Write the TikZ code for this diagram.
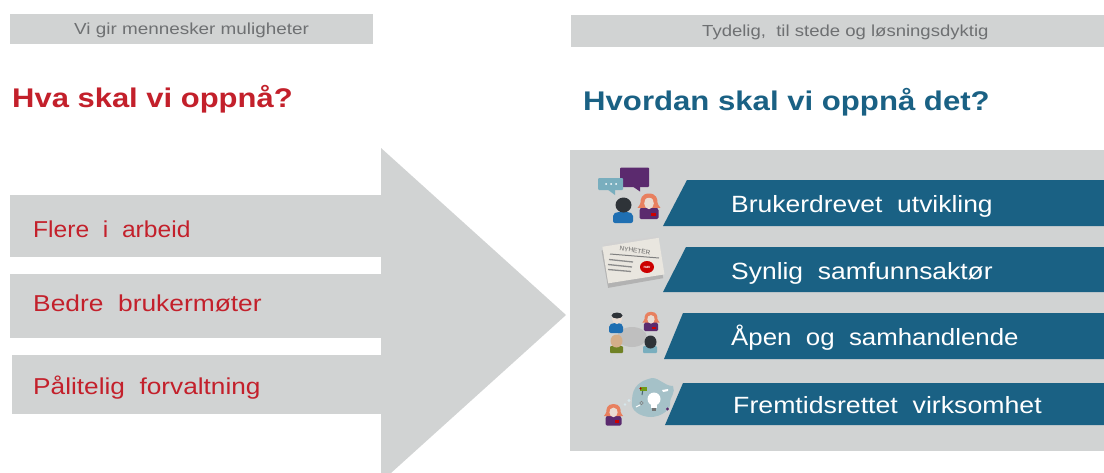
\documentclass[tikz,border=0pt]{standalone}
\usepackage{fontspec}
\setmainfont{Liberation Sans}
\definecolor{panel}{HTML}{D1D3D3}
\definecolor{redt}{HTML}{C3202B}
\definecolor{bluet}{HTML}{1A6184}
\definecolor{greyt}{HTML}{6E7072}
\definecolor{plum}{HTML}{5B2A6E}
\definecolor{tealb}{HTML}{79AEBE}
\definecolor{hair}{HTML}{E8805F}
\definecolor{skin}{HTML}{E9DCD3}
\definecolor{dark}{HTML}{2E3338}
\definecolor{blueb}{HTML}{1F6FB2}
\definecolor{paper}{HTML}{E9E6DF}
\tikzset{
  x=1pt,y=-1pt,
  hdr/.style={font=\fontsize{16}{16}\selectfont,text=greyt,anchor=west,inner sep=0pt},
  goal/.style={font=\fontsize{23}{23}\selectfont,text=redt,anchor=base west,inner sep=0pt},
  band/.style={font=\fontsize{23.5}{24}\selectfont,text=white,anchor=base west,inner sep=0pt},
  ttl/.style={font=\bfseries\fontsize{27}{27}\selectfont,anchor=base west,inner sep=0pt},
  pn/.style={fill=panel,draw=none},
  bnd/.style={fill=bluet,draw=none},
}
\newcommand{\sx}[2]{\scalebox{#1}[1]{#2}}
\newcommand{\womanicon}[3]{% x y scale
  \begin{scope}[shift={(#1,#2)},scale=#3]
    \fill[plum,rounded corners=1.5pt] (-10,17) -- (-10,6) -- (-5,3) -- (5,3) -- (10,6) -- (10,17) -- cycle;
    \fill[hair] (0,-10) .. controls (-8,-10) and (-9,-4) .. (-9,0) .. controls (-9,2) and (-11,3) .. (-12,5) -- (-4,5) -- (4,5) -- (12,5) .. controls (11,3) and (9,2) .. (9,0) .. controls (9,-4) and (8,-10) .. (0,-10) -- cycle;
    \fill[skin] (0,-5.5) .. controls (-7.5,-5.5) and (-6,6.5) .. (0,6.5) .. controls (6,6.5) and (7.5,-5.5) .. (0,-5.5) -- cycle;
    \fill[red!80!black] (2,10.5) rectangle (7,13.5);
  \end{scope}}
\begin{document}
\begin{tikzpicture}
\useasboundingbox (0,0) rectangle (1104,472);
\path[clip] (0,0) rectangle (1104,472);
\fill[white] (0,0) rectangle (1104,472);
% headers
\fill[pn] (10,14) rectangle (373,44);
\node[hdr] (h1) at (74,30.5) {\sx{1.18}{Vi gir mennesker muligheter}};
\fill[pn] (571,15) rectangle (1104,47);
\node[hdr] (h2) at (702,32) {\sx{1.158}{Tydelig,\ \ til stede og løsningsdyktig}};
\node[ttl,text=redt] (t1) at (12,107) {\sx{1.147}{Hva skal vi oppnå?}};
\node[ttl,text=bluet] (t2) at (583,110) {\sx{1.153}{Hvordan skal vi oppnå det?}};
% arrow
\fill[pn] (381,148) -- (566,315) -- (381,482) -- cycle;
\fill[pn] (10,195) rectangle (382,257);
\fill[pn] (10,274) rectangle (382,338);
\fill[pn] (12,355) rectangle (382,414);
\node[goal] (g1) at (33,237) {\sx{1.07}{Flere\ \ i\ \ arbeid}};
\node[goal] (g2) at (33,311) {\sx{1.146}{Bedre\ \ brukermøter}};
\node[goal] (g3) at (33,394) {\sx{1.14}{Pålitelig\ \ forvaltning}};
% panel
\fill[pn] (570,150) rectangle (1104,451);
\fill[bnd] (687,180) -- (1104,180) -- (1104,226) -- (663,226) -- cycle;
\fill[bnd] (686,247) -- (1104,247) -- (1104,292) -- (663,292) -- cycle;
\fill[bnd] (683,313) -- (1104,313) -- (1104,359) -- (664,359) -- cycle;
\fill[bnd] (683,383) -- (1104,383) -- (1104,425) -- (665,425) -- cycle;
\node[band] (b1) at (731,212) {\sx{1.125}{Brukerdrevet\ \ utvikling}};
\node[band] (b2) at (731,279) {\sx{1.125}{Synlig\ \ samfunnsaktør}};
\node[band] (b3) at (731,345) {\sx{1.10}{Åpen\ \ og\ \ samhandlende}};
\node[band] (b4) at (733,413) {\sx{1.136}{Fremtidsrettet\ \ virksomhet}};
% icon 1
\fill[plum,rounded corners=1pt] (620,167.5) rectangle (649,187);
\fill[plum] (632,186) -- (640,191.5) -- (640,186) -- cycle;
\fill[tealb,rounded corners=1pt] (598,178) rectangle (623,190);
\fill[tealb] (607,189) -- (615,195) -- (615,189) -- cycle;
\foreach \px in {606,611,616}{\fill[white] (\px,184) circle (1);}
\fill[blueb,rounded corners=2pt] (613,223) -- (613,214) -- (617,212) -- (629,212) -- (633,214) -- (633,223) -- cycle;
\fill[dark] (623.5,205) ellipse (8 and 7.5);
\womanicon{649}{203}{0.95}
% icon 2
\fill[black!18,rotate around={8:(634,260)}] (606,240) rectangle (660,280);
\fill[black!30,rotate around={10:(634,262)}] (604,245) rectangle (660,283);
\fill[paper,rotate around={9:(634,261)}] (605,242) rectangle (662,279);
\node[font=\fontsize{6.5}{7}\selectfont,text=black!60,rotate=-8,inner sep=0pt] (nh) at (635,250.5) {NYHETER};
\draw[black!50,line width=1pt] (610,254) -- (659,258);
\draw[black!45,line width=1.3pt] (609,259.5) -- (633,262);
\draw[black!45,line width=1.3pt] (608,264.5) -- (632,267);
\draw[black!45,line width=1.3pt] (608,269.5) -- (631,271.5);
\fill[red!80!black] (647,267) ellipse (7 and 6);
\node[font=\bfseries\fontsize{4}{4}\selectfont,text=white,inner sep=0pt] (nv) at (647,267) {nav};
% icon 3
\fill[black!25] (632,337) ellipse (15 and 10);
\fill[blueb,rounded corners=2pt] (609,333) -- (609,325) -- (613,323) -- (620,323) -- (623,325) -- (623,333) -- cycle;
\fill[skin] (617,319) ellipse (5 and 5);
\fill[dark] (617,315.5) ellipse (5.5 and 3);
\womanicon{651}{319}{0.72}
\fill[olive!70!green!80!black,rounded corners=1pt] (610,353) rectangle (623,346);
\fill[brown!50!skin] (616.5,341) ellipse (6 and 6.5);
\fill[tealb,rounded corners=1pt] (643,353) rectangle (657,346);
\fill[dark] (650.5,342) ellipse (6 and 6.5);
% icon 4
\fill[tealb!50!panel] (652,378) .. controls (660,378) and (664,386) .. (673,386) .. controls (676,392) and (670,398) .. (670,402) .. controls (672,410) and (660,417) .. (651,417) .. controls (640,417) and (630,410) .. (632,402) .. controls (632,392) and (634,382) .. (652,378) -- cycle;
\fill[white] (654,399) circle (6.5);
\fill[white] (651,404) rectangle (657,408);
\fill[black!55] (652,408) rectangle (656,411);
\draw[tealb!60!black,line width=1pt] (643,389) -- (642,395);
\fill[olive!60!green] (640,387) rectangle (647,391);
\fill[red!70!black] (640.5,388.5) circle (1.2);
\fill[white] (662,390) -- (668,389) -- (668,391) -- (663,392) -- cycle;
\draw[black!50,line width=.5pt] (641.5,403) circle (1.7);
\draw[white,line width=1pt] (636,407) -- (640,405);
\fill[plum] (667.5,409) circle (1.6);
\fill[white!70!tealb] (625,404.5) circle (1.4) (629,400.5) circle (1.6);
\womanicon{613.5}{412}{0.8}
\end{tikzpicture}
\end{document}
